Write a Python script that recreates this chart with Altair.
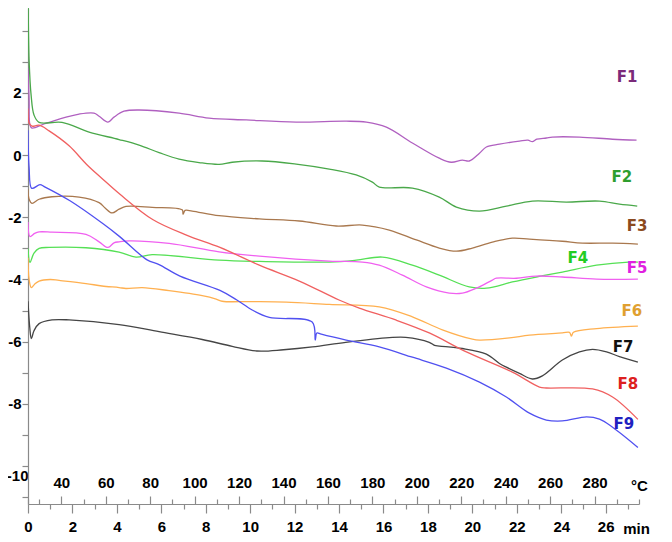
import altair as alt
import pandas as pd

# ---------------- data (time in min, signal value) ----------------
series = ["F1", "F2", "F3", "F4", "F5", "F6", "F7", "F8", "F9"]
line_colors = ["#b060c0", "#4aa84a", "#a9784e", "#55e055", "#f060f0",
               "#ffb050", "#454545", "#f06060", "#5050f0"]
label_colors = ["#7a2a7a", "#2e9e2e", "#8b4a20", "#22cc22", "#e020e0",
                "#e0a030", "#111111", "#dd2020", "#2020c0"]

f1_t = [0, 0.05, 0.09, 0.18, 0.72, 1.40, 2.30, 2.97, 3.20, 3.60, 3.87, 4.32, 5.0, 6.80, 8.15, 9.82,
        12.07, 14.32, 15.23, 16.13, 17.30, 18.51, 19.05, 19.55, 19.86, 20.32, 20.63, 21.22, 22.12,
        22.5, 22.7, 22.9, 23.33, 23.60, 24.82, 26.31, 27.39]
f1_v = [2.80, 1.80, 0.96, 0.87, 1.00, 1.16, 1.32, 1.35, 1.25, 1.06, 1.22, 1.41, 1.45, 1.35, 1.19, 1.13,
        1.06, 1.09, 1.06, 0.90, 0.39, -0.10, -0.23, -0.16, -0.19, 0.06, 0.26, 0.35, 0.45,
        0.48, 0.43, 0.51, 0.55, 0.58, 0.58, 0.51, 0.48]

f2_t = [0, 0.05, 0.14, 0.27, 0.50, 1.53, 2.75, 4.10, 5.0, 5.90, 6.80, 7.70, 8.60, 9.19, 10.54, 12.07,
        13.56, 14.77, 15.50, 15.81, 17.30, 18.51, 19.28, 20.32, 21.53, 22.70, 24.23, 25.72, 26.62, 27.42]
f2_v = [5.5, 3.05, 1.93, 1.29, 1.05, 1.05, 0.74, 0.50, 0.32, 0.08, -0.13, -0.24, -0.30, -0.23, -0.19, -0.29,
        -0.45, -0.64, -0.87, -1.03, -1.06, -1.35, -1.67, -1.80, -1.64, -1.48, -1.51, -1.48, -1.58, -1.64]

f3_t = [0, 0.05, 0.18, 0.5, 1.08, 2.30, 3.20, 3.47, 3.78, 4.10, 4.41, 5.59, 6.94, 6.98, 7.07, 7.39,
        8.60, 10.41, 12.21, 13.87, 15.05, 16.26, 17.48, 18.51, 19.28, 20.0, 20.90, 21.80, 22.57,
        24.05, 24.95, 26.31, 27.45]
f3_v = [-1.1, -1.42, -1.55, -1.42, -1.34, -1.35, -1.53, -1.70, -1.86, -1.74, -1.65, -1.68, -1.76, -1.90, -1.78, -1.80,
        -1.95, -2.05, -2.12, -2.28, -2.25, -2.41, -2.73, -2.99, -3.09, -2.99, -2.80, -2.67, -2.70,
        -2.77, -2.83, -2.83, -2.86]

f4_t = [0, 0.09, 0.27, 0.5, 0.95, 2.61, 4.10, 4.86, 5.59, 8.60, 10.41, 13.56, 14.77, 15.95, 17.30,
        18.51, 19.86, 20.63, 21.80, 22.88, 24.05, 25.59, 27.03, 27.45]
f4_v = [-3.0, -3.45, -3.15, -3.0, -2.97, -2.98, -3.12, -3.28, -3.20, -3.38, -3.42, -3.44, -3.38, -3.28, -3.54,
        -3.86, -4.24, -4.28, -4.08, -3.92, -3.76, -3.54, -3.44, -3.44]

f5_t = [0, 0.09, 0.3, 0.5, 1.08, 2.61, 3.20, 3.60, 3.87, 4.10, 4.55, 6.35, 8.60, 10.41, 13.56, 15.05,
        15.81, 16.85, 17.93, 18.96, 19.55, 20.18, 20.90, 21.08, 21.98, 22.88, 24.05, 25.59, 27.45]
f5_v = [-2.15, -2.62, -2.52, -2.47, -2.48, -2.55, -2.79, -2.97, -2.82, -2.79, -2.76, -2.84, -3.11, -3.25, -3.41, -3.44,
        -3.54, -3.86, -4.24, -4.44, -4.44, -4.28, -4.02, -3.96, -3.96, -3.89, -3.92, -3.99, -3.99]

f6_t = [0, 0.05, 0.15, 0.3, 0.5, 1.0, 1.4, 2.61, 3.33, 4.10, 4.41, 5.14, 6.35, 7.84, 8.47, 8.74, 10.09,
        11.62, 13.56, 15.81, 17.30, 18.65, 20.0, 20.32, 21.67, 22.57, 24.05, 24.37, 24.46, 24.55, 25.59, 27.45]
f6_v = [-3.3, -4.0, -4.26, -4.15, -4.05, -4.0, -4.03, -4.13, -4.21, -4.26, -4.29, -4.26, -4.36, -4.52, -4.63, -4.70, -4.71,
        -4.73, -4.80, -4.88, -5.20, -5.62, -5.92, -5.95, -5.88, -5.79, -5.72, -5.70, -5.82, -5.70, -5.58, -5.50]

f7_t = [0, 0.08, 0.15, 0.27, 0.5, 1.08, 1.85, 4.10, 5.90, 7.84, 9.19, 10.3, 11.5, 12.8, 14.3, 16.26, 17.0,
        18.06, 18.3, 18.51, 19.55, 20.63, 21.22, 21.53, 22.12, 22.70, 23.15, 24.05, 24.82, 25.41, 26.04,
        26.62, 27.45]
f7_v = [-4.7, -5.55, -5.9, -5.65, -5.42, -5.3, -5.3, -5.45, -5.68, -5.93, -6.15, -6.3, -6.26, -6.17, -6.02, -5.87, -5.86,
        -6.02, -6.12, -6.14, -6.22, -6.40, -6.70, -6.82, -7.02, -7.20, -7.10, -6.59, -6.33, -6.25, -6.33,
        -6.48, -6.66]

f8_t = [0, 0.05, 0.18, 0.5, 0.95, 1.85, 2.64, 3.33, 4.14, 5.63, 7.16, 8.64, 10.41, 12.21, 14.0, 14.91,
        16.58, 18.06, 19.73, 21.80, 23.02, 23.33, 25.41, 26.31, 27.45]
f8_v = [1.5, 1.03, 0.93, 0.96, 0.78, 0.30, -0.30, -0.75, -1.26, -2.08, -2.58, -2.97, -3.54, -4.05, -4.66, -4.92,
        -5.31, -5.72, -6.33, -6.98, -7.46, -7.49, -7.52, -7.78, -8.50]

f9_t = [0, 0.05, 0.17, 0.54, 0.75, 1.89, 3.38, 4.14, 5.36, 5.90, 6.84, 8.64, 9.40, 10.09, 10.86, 12.79,
        12.93, 13.0, 13.2, 14.32, 15.81, 17.30, 18.83, 20.32, 21.53, 22.57, 23.33, 24.05, 25.14, 25.72,
        26.31, 27.45]
f9_v = [0.8, -0.4, -1.07, -0.95, -1.02, -1.47, -2.21, -2.63, -3.37, -3.52, -3.89, -4.35, -4.66, -4.98, -5.22, -5.37,
        -5.95, -5.72, -5.76, -5.95, -6.17, -6.50, -6.85, -7.30, -7.78, -8.30, -8.52, -8.55, -8.42, -8.49,
        -8.75, -9.40]

label_t = [26.96, 26.73, 27.41, 24.75, 27.41, 27.18, 26.78, 27.0, 26.82]
label_v = [2.51, -0.71, -2.28, -3.31, -3.63, -5.02, -6.17, -7.36, -8.65]

min_ticks = list(range(0, 28))
celsius_ticks = [25] + list(range(30, 300, 10)) + [300]
y_ticks = list(range(-11, 5))

# ---------------- build tables ----------------
all_t = [f1_t, f2_t, f3_t, f4_t, f5_t, f6_t, f7_t, f8_t, f9_t]
all_v = [f1_v, f2_v, f3_v, f4_v, f5_v, f6_v, f7_v, f8_v, f9_v]
rows = []
for name, ts, vs in zip(series, all_t, all_v):
    for i, (t, v) in enumerate(zip(ts, vs)):
        rows.append({"series": name, "t": t, "v": v, "i": i})
df = pd.DataFrame(rows)
labels_df = pd.DataFrame({"label": series, "t": label_t, "v": label_v, "col": label_colors})
cdf = pd.DataFrame({"T": celsius_ticks})

W, H = 611, 496
X_DOM = [0, 27.5]
Y_DOM = [-11.22, 4.73]
FONT = "Liberation Sans"
LFONT = "DejaVu Sans"
AX = "#8a8a8a"

x_min_axis = alt.Axis(
    values=min_ticks, grid=False, domainColor=AX, tickColor=AX, domainWidth=1.2, tickWidth=1.2,
    tickSize={"condition": {"test": "datum.value % 2 === 0", "value": 9}, "value": 5},
    labelExpr="datum.value % 2 === 0 ? '' + datum.value : ''",
    labelFont=FONT, labelFontSize=15, labelFontWeight="bold", labelColor="#000",
    labelPadding=6, labelFlush=False, labelOverlap=False,
    title="min", titleX=608, titleY=24, titleBaseline="middle", titleAlign="center",
    titleFont=FONT, titleFontSize=15, titleFontWeight="bold", titleColor="#000",
)

y_axis = alt.Axis(
    values=y_ticks, grid=False, domainColor=AX, tickColor=AX, domainWidth=1.2, tickWidth=1.2,
    tickSize=6,
    labelExpr="(datum.value % 2 === 0 && datum.value <= 2) ? (datum.value < 0 ? '-' + abs(datum.value) : '' + datum.value) : ''",
    labelFont=FONT, labelFontSize=15, labelFontWeight="bold", labelColor="#000",
    labelPadding={"condition": {"test": "datum.value === -10", "value": -6}, "value": 1},
    labelOffset={"condition": {"test": "datum.value === -10", "value": 9}, "value": 0},
    labelFlush=False, labelOverlap=False, title=None,
)

y_enc = alt.Y("v:Q", scale=alt.Scale(domain=Y_DOM, nice=False, zero=False), axis=y_axis)

lines = alt.Chart(df).mark_line(strokeWidth=1.3, clip=True, interpolate="catmull-rom").encode(
    x=alt.X("t:Q", scale=alt.Scale(domain=X_DOM, nice=False, zero=False), axis=x_min_axis),
    y=y_enc,
    color=alt.Color("series:N", scale=alt.Scale(domain=series, range=line_colors), legend=None),
    order="i:Q",
    detail="series:N",
)

texts = alt.Chart(labels_df).mark_text(
    font=LFONT, fontSize=15, fontWeight="bold", align="center", baseline="middle"
).encode(
    x=alt.X("t:Q", scale=alt.Scale(domain=X_DOM, nice=False, zero=False), axis=None),
    y=y_enc,
    text="label:N",
    color=alt.Color("col:N", scale=None),
)

c_axis = alt.Axis(
    orient="top", offset=-H, values=celsius_ticks, grid=False, domain=False,
    tickColor=AX, tickWidth=1.2,
    tickSize={"condition": {"test": "datum.value % 20 === 0 && datum.value < 300", "value": 8}, "value": 5},
    labelExpr="datum.value === 300 ? '°C' : (datum.value % 20 === 0 ? '' + datum.value : '')",
    labelFont=FONT, labelFontSize=15, labelFontWeight="bold", labelColor="#000",
    labelPadding=6, labelFlush=False, labelOverlap=False, title=None,
)

celsius = alt.Chart(cdf).mark_point(opacity=0).encode(
    x=alt.X("T:Q", scale=alt.Scale(domain=[25, 300], nice=False, zero=False), axis=c_axis),
)

chart = alt.layer(lines, texts, celsius).resolve_scale(
    x="independent", color="independent"
).properties(
    width=W, height=H,
    padding={"left": 20, "top": 0, "right": 20, "bottom": 34},
    autosize=alt.AutoSizeParams(type="none"),
).configure_view(stroke=None)

chart.save("out.html", embed_options={"renderer": "svg", "actions": False})
